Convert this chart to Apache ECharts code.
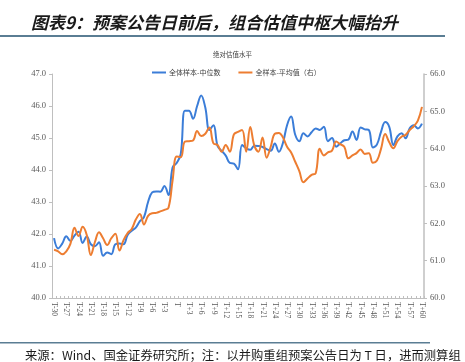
<!DOCTYPE html>
<html><head><meta charset="utf-8">
<script src="https://cdn.jsdelivr.net/npm/echarts@6/dist/echarts.min.js"></script>
<style>html,body{margin:0;padding:0;background:#fff}#c{width:465px;height:362px}</style>
</head><body><div id="c"></div>
<script>
const categories = [];
for (let d = -30; d <= 60; d++) categories.push(d === 0 ? 'T' : (d < 0 ? 'T' + d : 'T+' + d));

const medianAll = [41.87,41.55,41.7,41.93,41.78,41.95,42.07,41.72,41.92,41.68,
41.62,41.74,41.32,41.42,41.37,41.68,41.7,41.68,41.97,42.1,
42.2,42.4,42.53,43.0,43.3,43.33,43.32,43.5,43.22,44.08,
44.22,44.5,45.85,45.85,45.6,46.0,46.33,45.95,45.25,45.4,
44.75,44.6,44.45,44.22,44.2,44.02,44.78,44.68,44.63,44.76,
44.75,44.72,44.65,44.6,44.83,44.57,44.85,45.4,45.67,45.1,
44.9,45.15,45.05,45.18,45.3,45.25,45.35,44.9,45.0,44.73,
44.83,44.93,44.95,45.2,44.94,45.33,45.27,45.25,44.7,44.8,
45.2,45.5,45.35,44.78,45.05,45.15,44.99,45.3,45.4,45.3,45.45];

const meanAll = [61.29,61.25,61.17,61.25,61.45,61.88,61.66,61.91,61.69,61.15,
61.5,61.76,61.6,61.42,61.6,61.72,61.27,61.55,61.74,61.85,
62.1,62.25,61.97,62.2,62.27,62.28,62.32,62.36,62.42,63.15,
63.79,63.77,64.19,64.2,64.22,64.47,64.34,64.4,64.57,64.14,
64.1,63.92,64.1,63.92,64.38,64.45,64.5,63.92,64.58,64.08,
63.92,64.3,63.76,64.05,64.4,64.42,64.3,64.05,63.9,63.65,
63.4,63.1,63.2,63.3,63.34,64.0,63.82,63.9,63.95,64.19,
64.12,64.05,63.74,63.82,63.88,63.98,63.86,63.88,63.62,63.68,
64.0,64.39,64.17,64.01,64.2,64.32,64.37,64.5,64.6,64.75,65.12];

const seriesNames = ['全体样本-中位数', '全样本-平均值（右）'];
const titleText = '图表9：预案公告日前后，组合估值中枢大幅抬升';
const chartTitle = '绝对估值水平';
const sourceText = '来源：Wind、国金证券研究所；注：以并购重组预案公告日为 T 日，进而测算组';

const cjk = '"Noto Sans CJK SC", sans-serif';
const serif = '"Liberation Serif", "DejaVu Serif", serif';
const chart = echarts.init(document.getElementById('c'));
chart.setOption({
  animation: false,
  title: [{
    text: titleText, left: 26, top: 9,
    textStyle: {fontSize: 17, fontWeight: 'bold', fontStyle: 'italic', color: '#1a1a1a', fontFamily: cjk}
  }, {
    text: chartTitle, left: 'center', top: 46,
    textStyle: {fontSize: 6.5, fontWeight: 'normal', color: '#404040', fontFamily: cjk}
  }],
  legend: {
    top: 64, left: 147, itemGap: 18, itemWidth: 14, itemHeight: 2, icon: 'rect',
    textStyle: {fontSize: 7, color: '#404040', fontFamily: cjk, padding: [0,0,0,-2]},
    data: seriesNames
  },
  graphic: [
    {type: 'rect', shape: {x: 0, y: 35, width: 445, height: 2}, style: {fill: '#5a7d93'}},
    {type: 'rect', shape: {x: 0, y: 342, width: 430, height: 1.5}, style: {fill: '#5a7d93'}},
    {type: 'text', left: 25, top: 349, style: {text: sourceText, fontSize: 12.3, fill: '#1a1a1a', fontFamily: cjk}}
  ],
  grid: {left: 52, right: 41, top: 74, bottom: 64},
  xAxis: {
    type: 'category', data: categories, boundaryGap: true,
    axisLine: {lineStyle: {color: '#bfbfbf', width: 1}},
    axisTick: {show: true, inside: true, length: 2, interval: 0, lineStyle: {color: '#bfbfbf'}},
    axisLabel: {interval: 2, rotate: -90, fontSize: 7.5, color: '#595959', fontFamily: serif, margin: 4}
  },
  yAxis: [{
    type: 'value', min: 40, max: 47, interval: 1,
    axisLine: {show: true, lineStyle: {color: '#bfbfbf'}},
    axisTick: {show: true, length: 3, lineStyle: {color: '#bfbfbf'}},
    splitLine: {show: false},
    axisLabel: {formatter: v => v.toFixed(1), fontSize: 8.5, color: '#595959', fontFamily: serif, margin: 6}
  }, {
    type: 'value', min: 60, max: 66, interval: 1, position: 'right',
    axisLine: {show: true, lineStyle: {color: '#bfbfbf', width: 1.5}},
    axisTick: {show: true, length: 3, lineStyle: {color: '#bfbfbf'}},
    splitLine: {show: false},
    axisLabel: {formatter: v => v.toFixed(1), fontSize: 8.5, color: '#595959', fontFamily: serif, margin: 6}
  }],
  series: [{
    name: seriesNames[0], type: 'line', data: medianAll, yAxisIndex: 0,
    smooth: 0.4, showSymbol: false, lineStyle: {width: 2, color: '#3b7dd8'}, itemStyle: {color: '#3b7dd8'}
  }, {
    name: seriesNames[1], type: 'line', data: meanAll, yAxisIndex: 1,
    smooth: 0.4, showSymbol: false, lineStyle: {width: 2, color: '#ed7d31'}, itemStyle: {color: '#ed7d31'}
  }]
});
</script></body></html>
